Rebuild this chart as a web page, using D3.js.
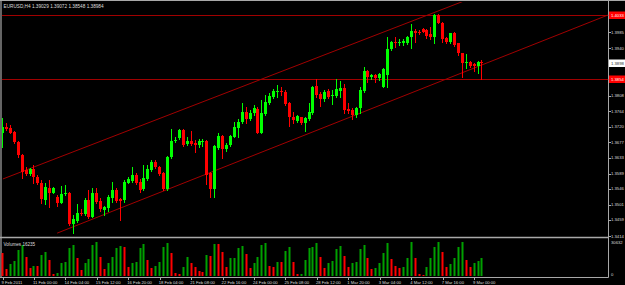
<!DOCTYPE html>
<html><head><meta charset="utf-8">
<script src="https://cdn.jsdelivr.net/npm/d3@7"></script>
<style>
html,body{margin:0;padding:0;background:#000;overflow:hidden}
svg{display:block}
text{font-family:"Liberation Sans",Arial,sans-serif}
</style></head><body>
<svg id="c" width="625" height="285"></svg>
<script>
// ---------------- DATA ----------------
const chartTitle = "EURUSD,H4  1.39029 1.39072 1.38548 1.38984";
const open = [
1.3703,1.3720,1.3717,1.3706,1.3678,1.3641,1.3599,1.3588,1.3602,1.3579,
1.3563,1.3515,1.3549,1.3535,1.3523,1.3507,1.3532,1.3535,1.3448,1.3456,
1.3479,1.3476,1.3515,1.3467,1.3535,1.3512,1.3487,1.3493,1.3521,1.3543,
1.3518,1.3515,1.3563,1.3568,1.3585,1.3565,1.3546,1.3574,1.3599,1.3622,
1.3608,1.3591,1.3546,1.3636,1.3681,1.3689,1.3711,1.3672,1.3681,1.3675,
1.3669,1.3678,1.3681,1.3591,1.3546,1.3661,1.3694,1.3658,1.3669,1.3692,
1.3717,1.3734,1.3762,1.3742,1.3759,1.3770,1.3703,1.3756,1.3787,1.3804,
1.3818,1.3821,1.3818,1.3787,1.3748,1.3737,1.3748,1.3731,1.3742,1.3759,
1.3835,1.3812,1.3798,1.3821,1.3807,1.3807,1.3821,1.3829,1.3770,1.3767,
1.3753,1.3773,1.3821,1.3877,1.3860,1.3866,1.3857,1.3832,1.3866,1.3939,
1.3958,1.3955,1.3955,1.3955,1.3972,1.3989,1.3986,1.3995,1.3992,1.3981,
1.3972,1.4034,1.4011,1.3969,1.3958,1.3983,1.3955,1.3927,1.3899,1.3902,
1.3896,1.3891,1.39029];
const high = [
1.3745,1.3731,1.3725,1.3709,1.3681,1.3644,1.3608,1.3605,1.3613,1.3585,
1.3571,1.3563,1.3571,1.3551,1.3529,1.3554,1.3557,1.3537,1.3473,1.3504,
1.3490,1.3521,1.3543,1.3549,1.3549,1.3521,1.3498,1.3529,1.3565,1.3549,
1.3521,1.3571,1.3579,1.3608,1.3591,1.3574,1.3613,1.3613,1.3627,1.3627,
1.3610,1.3594,1.3638,1.3714,1.3692,1.3714,1.3714,1.3692,1.3709,1.3683,
1.3686,1.3686,1.3683,1.3594,1.3669,1.3703,1.3697,1.3675,1.3697,1.3734,
1.3742,1.3787,1.3776,1.3767,1.3781,1.3776,1.3795,1.3810,1.3815,1.3826,
1.3838,1.3832,1.3824,1.3790,1.3762,1.3753,1.3748,1.3748,1.3787,1.3835,
1.3854,1.3818,1.3824,1.3826,1.3824,1.3854,1.3849,1.3840,1.3787,1.3773,
1.3776,1.3832,1.3888,1.3880,1.3868,1.3868,1.3871,1.3885,1.3972,1.3961,
1.3972,1.3967,1.3967,1.3975,1.4009,1.3995,1.3992,1.3997,1.3995,1.4000,
1.4037,1.4037,1.4014,1.3972,1.3983,1.3986,1.3955,1.3927,1.3925,1.3905,
1.3899,1.3905,1.39072];
const low = [
1.3664,1.3711,1.3703,1.3675,1.3636,1.3577,1.3585,1.3585,1.3563,1.3560,
1.3507,1.3504,1.3495,1.3535,1.3498,1.3507,1.3529,1.3445,1.3423,1.3453,
1.3473,1.3473,1.3465,1.3467,1.3507,1.3484,1.3473,1.3484,1.3509,1.3509,
1.3459,1.3509,1.3563,1.3565,1.3560,1.3537,1.3543,1.3571,1.3596,1.3605,
1.3585,1.3543,1.3543,1.3633,1.3678,1.3686,1.3666,1.3669,1.3669,1.3650,
1.3664,1.3666,1.3560,1.3523,1.3523,1.3658,1.3633,1.3652,1.3666,1.3692,
1.3692,1.3731,1.3731,1.3739,1.3753,1.3703,1.3703,1.3753,1.3784,1.3801,
1.3804,1.3810,1.3781,1.3723,1.3731,1.3734,1.3728,1.3709,1.3739,1.3756,
1.3804,1.3779,1.3793,1.3801,1.3784,1.3804,1.3804,1.3759,1.3759,1.3742,
1.3748,1.3759,1.3818,1.3846,1.3854,1.3846,1.3852,1.3832,1.3832,1.3936,
1.3944,1.3950,1.3950,1.3953,1.3941,1.3958,1.3981,1.3986,1.3969,1.3967,
1.3955,1.4011,1.3958,1.3955,1.3955,1.3947,1.3922,1.3860,1.3885,1.3888,
1.3877,1.3871,1.38548];
const close = [
1.3720,1.3714,1.3703,1.3678,1.3641,1.3594,1.3588,1.3602,1.3579,1.3563,
1.3518,1.3551,1.3535,1.3549,1.3507,1.3532,1.3535,1.3448,1.3462,1.3479,
1.3476,1.3515,1.3467,1.3535,1.3509,1.3490,1.3495,1.3523,1.3543,1.3512,
1.3512,1.3565,1.3574,1.3585,1.3563,1.3543,1.3577,1.3602,1.3622,1.3608,
1.3588,1.3546,1.3636,1.3681,1.3683,1.3711,1.3669,1.3681,1.3672,1.3669,
1.3681,1.3681,1.3585,1.3546,1.3666,1.3694,1.3658,1.3669,1.3694,1.3720,
1.3734,1.3762,1.3742,1.3759,1.3773,1.3703,1.3759,1.3790,1.3807,1.3821,
1.3821,1.3818,1.3784,1.3748,1.3739,1.3751,1.3731,1.3745,1.3762,1.3832,
1.3810,1.3798,1.3818,1.3804,1.3810,1.3826,1.3829,1.3767,1.3765,1.3753,
1.3773,1.3824,1.3877,1.3860,1.3866,1.3857,1.3868,1.3882,1.3939,1.3958,
1.3955,1.3958,1.3961,1.3972,1.3989,1.3983,1.3983,1.3986,1.3975,1.3972,
1.4034,1.4011,1.3967,1.3958,1.3983,1.3950,1.3927,1.3899,1.3902,1.3891,
1.3891,1.3902,1.38984];
const volume = [
21020,6306,10511,13514,23423,27928,17417,7508,9009,8800,
18619,21622,14414,1502,2403,12012,12312,24925,27928,15915,
5405,12012,15015,27928,30330,17417,6306,11411,17417,24925,
27027,26426,7808,11411,12913,24925,28829,14414,7508,9009,
12913,26426,29429,20420,2403,1802,8408,16817,11411,8408,
4805,3904,18919,18018,28829,28500,21922,7808,15915,16216,
24925,27027,19820,6907,11411,17417,27928,29429,9009,8408,
12913,12700,22823,26426,12913,1502,1802,14414,24925,26426,
29429,16817,6907,11411,13814,24024,27027,18318,8408,11411,
12312,24024,27928,15915,6006,6907,11411,20420,29429,15015,
9009,6907,7808,16517,30330,15915,1502,901,8408,15915,
26426,30632,21922,7808,10811,16517,26426,30330,14414,7808,
12012,13814,16235];
const volumeLabel = "Volumes 16235";
const volumeMax = 30632;
const volumeAxisLabels = ["30632", "0"];
const timeLabels = ["9 Feb 2011","11 Feb 00:00","14 Feb 04:00","15 Feb 12:00","16 Feb 20:00",
  "18 Feb 04:00","21 Feb 08:00","22 Feb 16:00","24 Feb 00:00","25 Feb 08:00","28 Feb 12:00",
  "1 Mar 20:00","3 Mar 04:00","4 Mar 12:00","7 Mar 16:00","9 Mar 00:00"];
const timeLabelBar = [0,8,16,24,32,40,48,56,64,72,80,88,96,104,112,120];
const priceTicks = [1.3414,1.3459,1.3501,1.3546,1.3589,1.3633,1.3677,1.3720,1.3764,1.3808,1.3852,1.3896,1.3940,1.3985,1.4029];
const hLineValues = [1.4033, 1.3854];
const bidValue = 1.38984;
const channelUpper = [[0.1, 1.3574], [118.1, 1.4076]];
const channelLower = [[13.9, 1.3422], [154.1, 1.4034]];

// ---------------- LAYOUT ----------------
const W = 625, H = 285;
const axisX = 608.5;
const mainTop = 1, mainBottom = 237;
const volTop = 238.5, volBottom = 277.5;
const n = open.length;
const barStep = 3.93;
const x = d3.scaleLinear().domain([0, n - 1]).range([2.5, 2.5 + (n - 1) * barStep]);
const y = d3.scaleLinear().domain([1.3414, 1.407598]).range([236, 0]);
const yv = d3.scaleLinear().domain([0, volumeMax]).range([276, 242]);

const UP = "#00ff00", DOWN = "#ff0000";
const VUP = "#00a000", VDOWN = "#ff0000";
const LINE = "#a00000";
const FRAME = "#a8a8a8";
const TXT = "#dcdcdc";

const svg = d3.select("#c");
svg.append("rect").attr("width", W).attr("height", H).attr("fill", "#000");

const defs = svg.append("defs");
defs.append("clipPath").attr("id", "mainclip").append("rect")
  .attr("x", 2).attr("y", mainTop + 1).attr("width", axisX - 2).attr("height", mainBottom - mainTop - 1);

// frame
const frame = svg.append("g").attr("stroke", FRAME).attr("fill", "none");
frame.append("line").attr("x1", 0).attr("x2", W).attr("y1", 0.5).attr("y2", 0.5).attr("stroke-width", 1);
frame.append("line").attr("x1", 1).attr("x2", 1).attr("y1", 0).attr("y2", volBottom).attr("stroke-width", 1.2);
frame.append("line").attr("x1", 0).attr("x2", axisX).attr("y1", mainBottom + 0.5).attr("y2", mainBottom + 0.5).attr("stroke-width", 1.6);
frame.append("line").attr("x1", 0).attr("x2", axisX).attr("y1", volBottom).attr("y2", volBottom).attr("stroke-width", 1);
frame.append("line").attr("x1", axisX).attr("x2", axisX).attr("y1", 0).attr("y2", volBottom).attr("stroke-width", 1);

// objects: horizontal lines and channel
const obj = svg.append("g").attr("clip-path", "url(#mainclip)");
obj.selectAll("line.h").data(hLineValues).join("line")
  .attr("x1", 2).attr("x2", axisX)
  .attr("y1", d => Math.round(y(d)) + 0.5).attr("y2", d => Math.round(y(d)) + 0.5)
  .attr("stroke", LINE).attr("stroke-width", 1);
const chLine = d3.line().x(d => x(d[0])).y(d => y(d[1]));
[channelUpper, channelLower].forEach(c => {
  obj.append("path").attr("d", chLine(c)).attr("stroke", LINE).attr("stroke-width", 1).attr("fill", "none");
});

// candles
const idx = d3.range(n);
const cg = svg.append("g").attr("clip-path", "url(#mainclip)");
const bx = i => Math.round(x(i) - 1.5);
cg.selectAll("rect.w").data(idx).join("rect")
  .attr("x", i => bx(i) + 1)
  .attr("y", i => Math.round(y(high[i])))
  .attr("width", 1)
  .attr("height", i => Math.max(1, Math.round(y(low[i])) - Math.round(y(high[i])) + 1))
  .attr("fill", i => close[i] >= open[i] ? UP : DOWN);
cg.selectAll("rect.b").data(idx).join("rect")
  .attr("x", i => bx(i))
  .attr("y", i => Math.round(y(Math.max(open[i], close[i]))))
  .attr("width", 3)
  .attr("height", i => Math.max(1, Math.round(y(Math.min(open[i], close[i]))) - Math.round(y(Math.max(open[i], close[i])))))
  .attr("fill", i => close[i] >= open[i] ? UP : DOWN);

// volumes
const vg = svg.append("g");
vg.selectAll("rect").data(idx).join("rect")
  .attr("x", i => bx(i) + 0.5)
  .attr("y", i => Math.round(yv(volume[i])))
  .attr("width", 2)
  .attr("height", i => Math.max(0, 276 - Math.round(yv(volume[i]))))
  .attr("fill", i => (i > 0 && volume[i] > volume[i - 1]) ? VUP : VDOWN);

// price axis
const fs = 4.2;
const pa = svg.append("g");
pa.selectAll("line").data(priceTicks).join("line")
  .attr("x1", axisX).attr("x2", axisX + 2.5)
  .attr("y1", d => Math.round(y(d)) + 0.5).attr("y2", d => Math.round(y(d)) + 0.5)
  .attr("stroke", FRAME);
pa.selectAll("text").data(priceTicks).join("text")
  .attr("x", 611).attr("y", d => y(d))
  .attr("dominant-baseline", "central")
  .attr("font-size", fs).attr("fill", TXT)
  .text(d => d.toFixed(4));

// price markers
const mk = svg.append("g");
hLineValues.forEach(v => {
  const yy = Math.round(y(v));
  mk.append("rect").attr("x", 609).attr("y", yy - 3.5).attr("width", 16).attr("height", 7.5).attr("fill", "#ff0000");
  mk.append("text").attr("x", 611).attr("y", yy + 0.3).attr("dominant-baseline", "central")
    .attr("font-size", fs).attr("fill", "#ffffff").text(v.toFixed(4));
});
{
  const yy = Math.round(y(bidValue));
  mk.append("rect").attr("x", 609).attr("y", yy - 3.5).attr("width", 16).attr("height", 7.5).attr("fill", "#ffffff");
  mk.append("text").attr("x", 611).attr("y", yy + 0.3).attr("dominant-baseline", "central")
    .attr("font-size", fs).attr("fill", "#303030").text(bidValue.toFixed(4));
}

// volume axis
const vAxVals = [volumeMax, 0];
svg.append("g").selectAll("text").data(vAxVals).join("text")
  .attr("x", 611).attr("y", (d, i) => yv(d) + (i === 1 ? -1.5 : 0))
  .attr("dominant-baseline", "central").attr("font-size", fs).attr("fill", TXT)
  .text((d, i) => volumeAxisLabels[i]);

// time axis
const ta = svg.append("g");
ta.selectAll("line").data(timeLabelBar).join("line")
  .attr("x1", i => Math.round(x(i)) + 0.5).attr("x2", i => Math.round(x(i)) + 0.5)
  .attr("y1", volBottom).attr("y2", volBottom + 2.5).attr("stroke", FRAME);
ta.selectAll("text").data(timeLabelBar).join("text")
  .attr("x", (i, k) => Math.max(1, x(i) - 1)).attr("y", 283.6)
  .attr("font-size", fs).attr("fill", TXT)
  .text((i, k) => timeLabels[k]);

// titles
svg.append("text").attr("x", 3.5).attr("y", 8.2).attr("font-size", 4.7).attr("fill", TXT).text(chartTitle);
svg.append("text").attr("x", 3.5).attr("y", 245.5).attr("font-size", 4.6).attr("fill", TXT).text(volumeLabel);
</script>
</body></html>
